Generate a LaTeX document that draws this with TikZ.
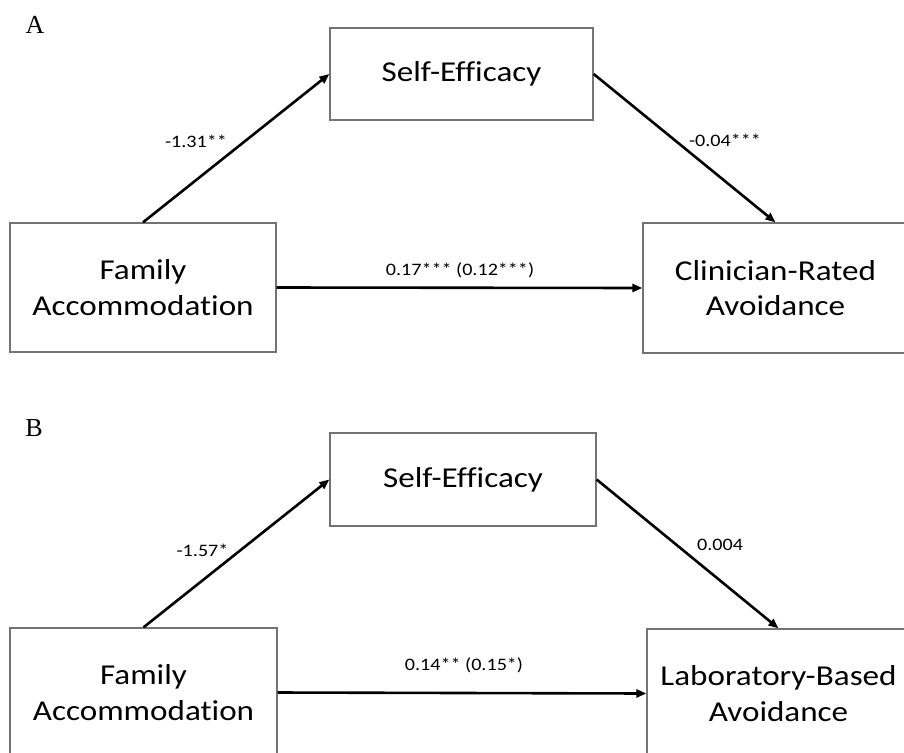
\documentclass[tikz,border=0pt]{standalone}
\usepackage{fontspec}
\setmainfont{Carlito}[FakeStretch=1.15, Ligatures=NoCommon]
\newfontfamily\panelfont{Liberation Serif}
\usetikzlibrary{arrows.meta}
\tikzset{
  box/.style={draw=black!55, line width=1.3pt, fill=white, rectangle, align=center,
    inner sep=0pt, font=\fontsize{28.8}{35.5}\selectfont},
  conn/.style={line width=2.6pt, -{Triangle[length=10pt,width=8pt]}},
  coef/.style={font=\fontsize{17.5}{20}\selectfont, inner sep=0pt},
  panel/.style={font=\panelfont\fontsize{26}{28}\selectfont, inner sep=0pt}
}
\begin{document}
\begin{tikzpicture}[x=1pt,y=-1pt]
\useasboundingbox (0,0) rectangle (904,752);
\clip (0,0) rectangle (904,752);
% Panel A
\node[panel] (labA) at (35,25) {A};
\node[box, minimum width=266pt, minimum height=129pt] (famA) at (143,287.5) {Family\\Accommodation};
\node[box, minimum width=263pt, minimum height=92pt] (seA) at (461.5,74) {Self-Efficacy};
\node[box, minimum width=265pt, minimum height=130pt] (clinA) at (775.5,288) {Clinician-Rated\\Avoidance};
\draw[conn] (famA.north) -- (seA.west);
\draw[conn] (seA.east) -- (clinA.north);
\draw[conn] (famA.east) -- (clinA.west);
\node[coef] (cA1) at (196,141) {-1.31**};
\node[coef] (cA2) at (725,140) {-0.04***};
\node[coef] (cA3) at (460,270) {0.17*** (0.12***)};
% Panel B
\node[panel] (labB) at (34,428) {B};
\node[box, minimum width=267pt, minimum height=129pt] (famB) at (143.5,692.5) {Family\\Accommodation};
\node[box, minimum width=266pt, minimum height=93pt] (seB) at (463,479.5) {Self-Efficacy};
\node[box, minimum width=263pt, minimum height=129pt] (labBx) at (778.5,693.5) {Laboratory-Based\\Avoidance};
\draw[conn] (famB.north) -- (seB.west);
\draw[conn] (seB.east) -- (labBx.north);
\draw[conn] (famB.east) -- (labBx.west);
\node[coef] (cB1) at (202.5,550) {-1.57*};
\node[coef] (cB2) at (720,545) {0.004};
\node[coef] (cB3) at (464,665) {0.14** (0.15*)};
\end{tikzpicture}
\end{document}
